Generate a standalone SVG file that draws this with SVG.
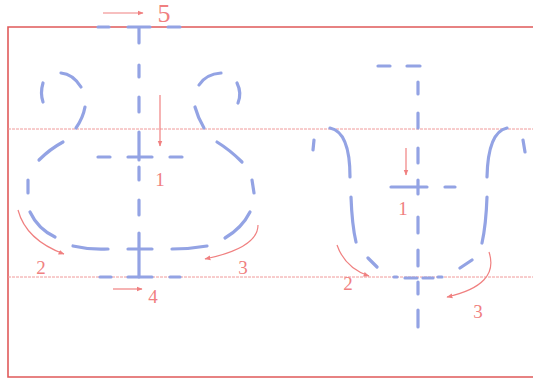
<svg xmlns="http://www.w3.org/2000/svg" width="533" height="381" viewBox="0 0 533 381">
<defs>
<style>
.frame{fill:none;stroke:#e05a5a;stroke-width:1.6}
.guide{fill:none;stroke:#f09a9a;stroke-width:1;stroke-dasharray:3 1}
.st{fill:none;stroke:#93a3e4;stroke-width:3.2;stroke-linecap:round}
.arr{fill:none;stroke:#f08080;stroke-width:1.2;marker-end:url(#ah)}
.lbl{fill:#f08080;font-family:"Liberation Serif",serif;font-size:19px;text-anchor:middle}
</style>
<marker id="ah" viewBox="0 0 10 10" refX="9" refY="5" markerWidth="6" markerHeight="6" orient="auto" markerUnits="userSpaceOnUse">
<path d="M0,1 L10,5 L0,9 Z" fill="#f08080"/>
</marker>
</defs>
<rect width="533" height="381" fill="#ffffff"/>
<g id="frame">
<path class="frame" d="M540,27 L8,27 L8,377 L540,377"/>
<line class="guide" x1="8" y1="129" x2="533" y2="129"/>
<line class="guide" x1="8" y1="277" x2="533" y2="277"/>
</g>
<g id="char-left">
<path class="st" d="M98,27 L109,27 M128,27 L150,27 M168,27 L180,27"/>
<path class="st" d="M139,28 L139,43 M139,65 L139,77 M139,97 L139,112 M139,132 L139,160 M139,167 L139,180 M139,200 L139,215 M139,233 L139,277"/>
<path class="st" d="M98,157 L110,157 M128,157 L152,157 M170,157 L182,157"/>
<path class="st" d="M100,277 L111,277 M128,277 L152,277 M170,277 L180,277"/>
<path class="st" d="M43,83 Q40,93 43,102 M61,73 Q73,74 81,87 M85,107 Q83,118 76,128 M63,142 Q50,149 39,160"/>
<path class="st" d="M199,85 Q206,74 221,73 M237,83 Q242,93 238,103 M195,107 Q198,118 204,128 M217,142 Q230,150 242,162"/>
<path class="st" d="M28,180 L28,193 M30,212 Q38,229 55,237 M73,246 Q90,250 108,249 M128,249 L152,249 M172,249 Q190,249 207,246 M225,238 Q242,228 250,212 M252,180 L254,193"/>
</g>
<g id="char-right">
<path class="st" d="M378,66 L390,66 M407,66 L420,66"/>
<path class="st" d="M418,82 L418,94 M418,113 L418,128 M418,148 L418,163 M418,180 L418,194 M418,217 L418,233 M418,250 L418,266 M418,282 L418,294 M418,310 L418,327"/>
<path class="st" d="M391,187 L427,187 M445,187 L455,187"/>
<path class="st" d="M330,128 Q350,132 350,177 M351,197 Q352,225 356,242 M368,258 L377,267 M314,140 L313,150"/>
<path class="st" d="M507,128 Q488,132 487,177 M487,197 Q486,225 482,243 M472,260 L460,268 M523,140 L525,152"/>
<path class="st" d="M394,277 L397,277 M405,278 L417,278 M423,278 L433,278 M438,277 L442,277"/>
</g>
<g id="connectors">
<path class="arr" d="M103,13 L143,13"/>
<path class="arr" d="M160,95 L160,146"/>
<path class="arr" d="M18,210 Q26,240 64,254"/>
<path class="arr" d="M258,225 Q258,248 205,259"/>
<path class="arr" d="M113,289 L142,289"/>
<path class="arr" d="M406,148 L406,175"/>
<path class="arr" d="M337,245 Q345,268 369,276"/>
<path class="arr" d="M489,252 Q500,285 447,297"/>
</g>
<g id="labels">
<text class="lbl" x="164" y="22" style="font-size:26px">5</text>
<text class="lbl" x="160" y="186">1</text>
<text class="lbl" x="41" y="274">2</text>
<text class="lbl" x="243" y="274">3</text>
<text class="lbl" x="153" y="303">4</text>
<text class="lbl" x="403" y="215">1</text>
<text class="lbl" x="348" y="290">2</text>
<text class="lbl" x="478" y="318">3</text>
</g>
</svg>
